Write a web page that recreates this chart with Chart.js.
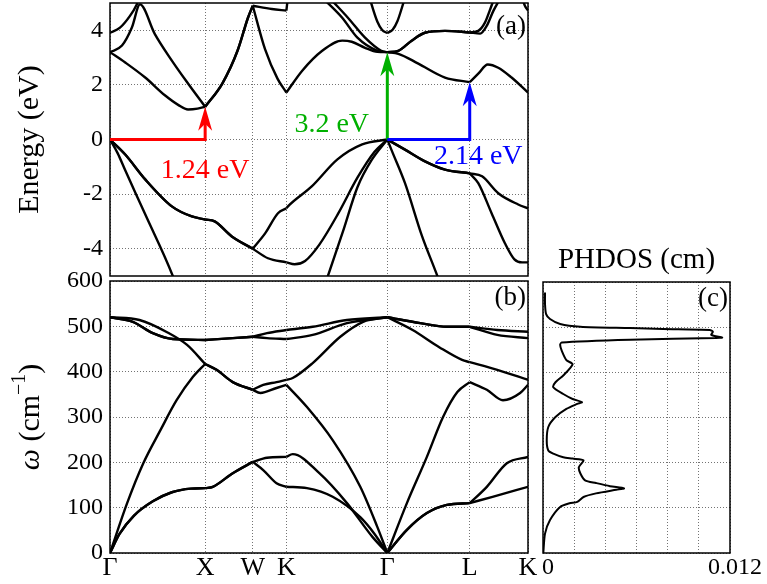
<!DOCTYPE html>
<html>
<head>
<meta charset="utf-8">
<script src="https://cdn.jsdelivr.net/npm/chart.js@4.4.1/dist/chart.umd.min.js"></script>
<style>
  body { margin: 0; background: #fff; }
  #wrap { position: relative; width: 767px; height: 584px; overflow: hidden; }
  canvas { position: absolute; }
</style>
</head>
<body>
<div id="wrap">
  <canvas id="bands" width="540" height="280" style="left:0;top:0;width:540px;height:280px"></canvas>
  <canvas id="phonons" width="540" height="324" style="left:0;top:260px;width:540px;height:324px"></canvas>
  <canvas id="phdos" width="234" height="344" style="left:533px;top:240px;width:234px;height:344px"></canvas>
</div>
<script>
// ---- k path (units of 2pi/a) ----
const kNames = ['Γ', 'X', 'W', 'K', 'Γ', 'L', 'K'];
const kNodes = [0, 1, 1.5, 1.8536, 2.9142, 3.7802, 4.3926];
const energyTicks = [-4, -2, 0, 2, 4];
const freqTicks = [0, 100, 200, 300, 400, 500, 600];
const dosTicks = [0, 0.002, 0.004, 0.006, 0.008, 0.010, 0.012];
const dosTickLabels = ['0', '', '', '', '', '', '0.012'];

// ---- electronic bands, [k, E (eV)] ----
const cbLowest = [[0,3.2],[0.16,2.82],[0.37,2.27],[0.58,1.61],[0.72,1.26],[0.82,1.1],[0.92,1.13],[1,1.2],
  [1.18,2.05],[1.34,3.25],[1.45,4.46],[1.5,4.9],
  [1.63,3.3],[1.76,2.23],[1.8536,1.72],
  [2.02,2.52],[2.23,3.25],[2.44,3.62],[2.54,3.58],[2.68,3.36],[2.81,3.21],[2.9142,3.2],
  [3.03,3.14],[3.24,2.78],[3.52,2.27],[3.7802,2.1],
  [3.87,2.41],[3.97,2.75],[4.08,2.63],[4.22,2.27],[4.3926,1.72]];
const cbSecond = [[0,3.2],[0.126,3.44],[0.23,4.1],[0.315,4.95],[0.47,3.87],[0.65,2.89],[0.82,2.05],[1,1.2],
  [1.18,2.05],[1.34,3.25],[1.45,4.46],[1.5,4.9],
  [1.7,4.78],[1.8536,4.72],[1.875,5.4]];
const cbThird = [[0,3.91],[0.105,4.1],[0.21,4.53],[0.28,4.94],[0.32,5.3]];
const cbUpperA = [[2.26,5.1],[2.44,4.46],[2.6,3.73],[2.81,3.25],[2.9142,3.2],
  [3.03,3.25],[3.17,3.62],[3.31,3.91],[3.52,3.98],[3.7802,3.92],
  [3.87,3.98],[3.94,4.28],[3.99,4.72],[4.03,5.1]];
const cbUpperB = [[2.33,5.1],[2.5,4.46],[2.68,3.73],[2.85,3.25],[2.9142,3.2],
  [3.03,3.25],[3.17,3.62],[3.31,3.91],[3.52,3.98],[3.7802,3.92],
  [3.89,3.88],[3.96,4.17],[4.03,4.72],[4.09,5.1]];
const cbGammaTwo = [[2.72,5.3],[2.74,5.05],[2.81,4.31],[2.86,4.01],[2.9142,3.9],
  [2.97,4.02],[3.02,4.33],[3.09,5.08],[3.11,5.3]];
const cbCornerK = [[4.33,5.2],[4.36,4.9],[4.3926,4.72]];

const vbTop = [[0,0],[0.16,-0.55],[0.37,-1.46],[0.65,-2.45],[0.86,-2.82],[1,-2.93],
  [1.1,-3.0],[1.28,-3.55],[1.5,-4.0],
  [1.63,-3.44],[1.765,-2.7],[1.8536,-2.52],
  [1.87,-2.45],[2.12,-1.72],[2.39,-0.73],[2.65,-0.18],[2.9142,0],
  [3.1,-0.37],[3.31,-0.8],[3.52,-1.1],[3.7802,-1.24],
  [3.91,-1.35],[4.08,-1.97],[4.29,-2.38],[4.3926,-2.52]];
const vbSecond = [[0,0],[0.16,-0.55],[0.37,-1.46],[0.65,-2.45],[0.86,-2.82],[1,-2.93],
  [1.1,-3.0],[1.28,-3.55],[1.5,-4.0],
  [1.66,-4.35],[1.8536,-4.5],
  [1.94,-4.57],[2.05,-4.45],[2.2,-3.85],[2.4,-2.7],[2.6,-1.4],[2.78,-0.45],[2.9142,0],
  [3.1,-0.37],[3.31,-0.8],[3.52,-1.1],[3.7802,-1.24],
  [3.87,-1.6],[4.01,-2.7],[4.15,-3.8],[4.25,-4.39],[4.33,-4.5],[4.3926,-4.5]];
const vbSteepGX = [[0,0],[0.08,-0.5],[0.16,-1.13],[0.37,-2.74],[0.66,-5.0],[0.7,-5.4]];
const vbSteepKG = [[2.25,-5.4],[2.29,-5.0],[2.45,-3.35],[2.6,-1.75],[2.75,-0.75],[2.9142,0]];
const vbSteepGL = [[2.9142,0],[2.96,-0.4],[3.1,-1.6],[3.28,-3.55],[3.44,-5.0],[3.48,-5.4]];

// ---- gaps marked with arrows ----
const gapLabels = ['1.24 eV', '3.2 eV', '2.14 eV'];
const gapFromK = [0, 2.9142, 2.9142];
const gapToK = [1, 2.9142, 3.7802];
const gapToE = [1.2, 3.2, 2.1];

// ---- phonon branches, [k, omega (cm-1)] ----
const phTA1 = [[0,0],[0.1,42],[0.25,82],[0.45,114],[0.65,134],[0.85,142],[1,143],
  [1.08,146],[1.29,176],[1.5,201],
  [1.61,183],[1.75,154],[1.8536,146],
  [2.07,143],[2.34,124],[2.63,79],[2.78,42],[2.9142,0],
  [3.12,51],[3.33,88],[3.54,106],[3.7802,110],
  [4.02,124],[4.3926,146]];
const phTA2 = [[0,0],[0.1,42],[0.25,82],[0.45,114],[0.65,134],[0.85,142],[1,143],
  [1.08,146],[1.29,176],[1.5,201],
  [1.65,210],[1.8536,212],
  [1.92,218],[2.2,176],[2.49,110],[2.76,35],[2.9142,0],
  [3.12,51],[3.33,88],[3.54,106],[3.7802,110],
  [3.96,146],[4.17,198],[4.3926,212]];
const phLA = [[0,0],[0.18,110],[0.35,198],[0.53,271],[0.7,337],[0.87,388],[1,417],
  [1.12,404],[1.29,377],[1.5,360],
  [1.58,353],[1.75,364],[1.8536,371],
  [2.07,322],[2.34,249],[2.63,146],[2.81,57],[2.9142,0],
  [3.12,110],[3.33,212],[3.5,300],[3.65,355],[3.7802,377],
  [3.96,360],[4.13,337],[4.31,353],[4.3926,371]];
const phLO = [[0,520],[0.31,514],[0.6,487],[0.81,459],[1,417],
  [1.12,404],[1.29,377],[1.5,360],
  [1.61,371],[1.75,377],[1.8536,382],
  [1.92,386],[2.13,419],[2.42,477],[2.66,510],[2.9142,520],
  [3.18,492],[3.46,454],[3.7,426],[3.7802,421],
  [4.07,404],[4.3926,382]];
const phTO1 = [[0,520],[0.24,510],[0.45,485],[0.66,472],[1,470],
  [1.29,474],[1.5,477],
  [1.65,485],[1.8536,492],
  [2.13,499],[2.49,514],[2.9142,520],
  [3.26,507],[3.54,499],[3.7802,499],
  [4.07,492],[4.3926,488]];
const phTO2 = [[0,520],[0.24,510],[0.45,485],[0.66,472],[1,470],
  [1.29,474],[1.5,477],
  [1.65,474],[1.8536,472],
  [2.13,481],[2.49,507],[2.9142,520],
  [3.26,507],[3.54,499],[3.7802,499],
  [4.07,481],[4.3926,474]];

// ---- phonon DOS ----
const dosFreq = [0,43,73,102,110,113,124,132,140,143,148,155,161,176,190,205,209,212,220,227,249,279,301,319,330,334,341,352,367,378,393,418,427,448,461,466,472,476,477,483,490,494,496,498,501,507,518,529,551,577];
const dosValue = [0.00002,0.00013,0.00045,0.0011,0.0017,0.0022,0.0026,0.0034,0.0047,0.0052,0.0043,0.0034,0.0027,0.0024,0.0023,0.0026,0.0019,0.0013,0.00066,0.00034,0.00024,0.00034,0.0008,0.0015,0.0022,0.0025,0.0019,0.0013,0.00066,0.0008,0.0013,0.0019,0.0015,0.0012,0.0011,0.0012,0.0056,0.0111,0.0115,0.0108,0.0109,0.0107,0.0077,0.0056,0.0024,0.0011,0.00045,0.0002,0.00013,0.00013];

const SERIF = '"Liberation Serif", "DejaVu Serif", serif';
Chart.defaults.font.family = SERIF;
Chart.defaults.color = '#000';

const gridColor = 'rgba(0,0,0,0.55)';

// split a branch at the high-symmetry points so each piece is smoothed alone
function pieces(points) {
  const out = [];
  let cur = [];
  points.forEach(([k, v]) => {
    cur.push({x: k, y: v});
    const atNode = kNodes.some(n => Math.abs(n - k) < 1e-6);
    if (atNode && cur.length > 1) {
      out.push(cur);
      cur = [{x: k, y: v}];
    }
  });
  if (cur.length > 1) out.push(cur);
  return out;
}

function branchSets(branches, width) {
  const sets = [];
  branches.forEach(b => {
    pieces(b).forEach(p => sets.push({
      data: p, showLine: true, pointRadius: 0, borderColor: '#000',
      borderWidth: width, cubicInterpolationMode: 'monotone', clip: 0
    }));
  });
  return sets;
}

const framePlugin = {
  id: 'frame',
  afterDatasetsDraw(chart) {
    const {ctx, chartArea: a} = chart;
    ctx.save();
    ctx.strokeStyle = '#000';
    ctx.lineWidth = 1.5;
    ctx.strokeRect(a.left, a.top, a.right - a.left, a.bottom - a.top);
    ctx.restore();
  }
};

const panelTag = (text, dy) => ({
  id: 'tag',
  afterDraw(chart) {
    const {ctx, chartArea: a} = chart;
    ctx.save();
    ctx.font = '27px ' + SERIF;
    ctx.fillStyle = '#000';
    ctx.textAlign = 'right';
    ctx.textBaseline = 'middle';
    ctx.fillText(text, a.right - 2, a.top + dy);
    ctx.restore();
  }
});

const gapColors = ['#ff0000', '#00b000', '#0000ff'];
const gapTextAt = [[1.0, -1.13], [2.33, 0.55], [3.87, -0.62]];

const arrowsPlugin = {
  id: 'arrows',
  afterDatasetsDraw(chart) {
    const {ctx} = chart;
    const xs = chart.scales.x, ys = chart.scales.y;
    ctx.save();
    gapLabels.forEach((lab, i) => {
      const x0 = xs.getPixelForValue(gapFromK[i]);
      const x1 = xs.getPixelForValue(gapToK[i]);
      const y0 = ys.getPixelForValue(0);
      const yt = ys.getPixelForValue(gapToE[i]);
      ctx.strokeStyle = gapColors[i];
      ctx.fillStyle = gapColors[i];
      ctx.lineWidth = 3;
      ctx.beginPath();
      ctx.moveTo(x0, y0);
      ctx.lineTo(x1, y0);
      ctx.lineTo(x1, yt + 14);
      ctx.stroke();
      ctx.beginPath();
      ctx.moveTo(x1, yt);
      ctx.lineTo(x1 - 7, yt + 24);
      ctx.lineTo(x1, yt + 17);
      ctx.lineTo(x1 + 7, yt + 24);
      ctx.closePath();
      ctx.fill();
      ctx.font = '28px ' + SERIF;
      ctx.textAlign = 'center';
      ctx.textBaseline = 'middle';
      ctx.fillText(lab, xs.getPixelForValue(gapTextAt[i][0]), ys.getPixelForValue(gapTextAt[i][1]));
    });
    ctx.restore();
  }
};

const omegaTitle = {
  id: 'omegaTitle',
  afterDraw(chart) {
    const {ctx, chartArea: a} = chart;
    const parts = [
      {t: 'ω', f: 'italic 30px ' + SERIF, dy: 0},
      {t: ' (cm', f: '30px ' + SERIF, dy: 0},
      {t: '−1', f: '20px ' + SERIF, dy: -11},
      {t: ')', f: '30px ' + SERIF, dy: 0}
    ];
    ctx.save();
    let total = 0;
    parts.forEach(p => { ctx.font = p.f; p.w = ctx.measureText(p.t).width; total += p.w; });
    ctx.translate(31, (a.top + a.bottom) / 2);
    ctx.rotate(-Math.PI / 2);
    ctx.fillStyle = '#000';
    ctx.textBaseline = 'middle';
    ctx.textAlign = 'left';
    let x = -total / 2;
    parts.forEach(p => { ctx.font = p.f; ctx.fillText(p.t, x, p.dy); x += p.w; });
    ctx.restore();
  }
};

function noPad(s) { s.paddingTop = 0; s.paddingBottom = 0; s.paddingLeft = 0; s.paddingRight = 0; }

const tickFont = {size: 24};

// ---- (a) band structure ----
new Chart(document.getElementById('bands'), {
  type: 'scatter',
  data: {datasets: branchSets([cbLowest, cbSecond, cbThird, cbUpperA, cbUpperB, cbGammaTwo, cbCornerK,
    vbTop, vbSecond, vbSteepGX, vbSteepKG, vbSteepGL], 2.4)},
  options: {
    responsive: false, animation: false, events: [],
    layout: {padding: {top: 3, right: 12, bottom: 4, left: 0}},
    plugins: {legend: {display: false}, tooltip: {enabled: false}},
    scales: {
      x: {
        type: 'linear', min: 0, max: kNodes[kNodes.length - 1],
        afterBuildTicks: s => { s.ticks = kNodes.map(v => ({value: v})); },
        ticks: {display: false},
        grid: {color: gridColor, drawTicks: false, borderDash: [1, 2]},
        border: {display: false, dash: [1, 2]},
        afterFit: s => { s.height = 0; noPad(s); }
      },
      y: {
        min: -5, max: 5,
        afterBuildTicks: s => { s.ticks = energyTicks.map(v => ({value: v})); },
        ticks: {font: tickFont, padding: 7},
        grid: {color: gridColor, drawTicks: false, borderDash: [1, 2]},
        border: {display: false, dash: [1, 2]},
        title: {display: true, text: 'Energy (eV)', font: {size: 30}, padding: {top: 12}},
        afterFit: s => { s.width = 110; noPad(s); }
      }
    }
  },
  plugins: [framePlugin, arrowsPlugin, panelTag('(a)', 24)]
});

// ---- (b) phonon dispersion ----
new Chart(document.getElementById('phonons'), {
  type: 'scatter',
  data: {datasets: branchSets([phTA1, phTA2, phLA, phLO, phTO1, phTO2], 2.4)},
  options: {
    responsive: false, animation: false, events: [],
    layout: {padding: {top: 21, right: 12, bottom: 0, left: 0}},
    plugins: {legend: {display: false}, tooltip: {enabled: false}},
    scales: {
      x: {
        type: 'linear', min: 0, max: kNodes[kNodes.length - 1],
        afterBuildTicks: s => { s.ticks = kNodes.map(v => ({value: v})); },
        ticks: {font: {size: 26}, padding: 0, autoSkip: false, maxRotation: 0,
          callback: (v, i) => kNames[i]},
        grid: {color: gridColor, drawTicks: false, borderDash: [1, 2]},
        border: {display: false, dash: [1, 2]},
        afterFit: s => { s.height = 31; noPad(s); }
      },
      y: {
        min: 0, max: 600,
        afterBuildTicks: s => { s.ticks = freqTicks.map(v => ({value: v})); },
        ticks: {font: tickFont, padding: 7},
        grid: {color: gridColor, drawTicks: false, borderDash: [1, 2]},
        border: {display: false, dash: [1, 2]},
        afterFit: s => { s.width = 110; noPad(s); }
      }
    }
  },
  plugins: [framePlugin, omegaTitle, panelTag('(b)', 17)]
});

// ---- (c) phonon density of states ----
new Chart(document.getElementById('phdos'), {
  type: 'scatter',
  data: {datasets: [{
    data: dosFreq.map((w, i) => ({x: dosValue[i], y: w})),
    showLine: true, pointRadius: 0, borderColor: '#000', borderWidth: 2,
    tension: 0.25, clip: 0
  }]},
  options: {
    responsive: false, animation: false, events: [],
    layout: {padding: {top: 0, right: 37, bottom: 0, left: 10}},
    plugins: {
      legend: {display: false}, tooltip: {enabled: false},
      title: {display: true, text: 'PHDOS (cm)', font: {size: 29, weight: 'normal'},
        color: '#000', padding: {top: 3, bottom: 4.2}}
    },
    scales: {
      x: {
        type: 'linear', min: 0, max: 0.012,
        afterBuildTicks: s => { s.ticks = dosTicks.map(v => ({value: v})); },
        ticks: {font: tickFont, padding: 0, autoSkip: false, maxRotation: 0, labelOffset: 5,
          callback: (v, i) => dosTickLabels[i]},
        grid: {color: gridColor, drawTicks: false, borderDash: [1, 2]},
        border: {display: false, dash: [1, 2]},
        afterFit: s => { s.height = 31; noPad(s); }
      },
      y: {
        min: 0, max: 600,
        afterBuildTicks: s => { s.ticks = freqTicks.map(v => ({value: v})); },
        ticks: {display: false},
        grid: {color: gridColor, drawTicks: false, borderDash: [1, 2]},
        border: {display: false, dash: [1, 2]},
        afterFit: s => { s.width = 0; noPad(s); }
      }
    }
  },
  plugins: [framePlugin, panelTag('(c)', 17)]
});
</script>
</body>
</html>
